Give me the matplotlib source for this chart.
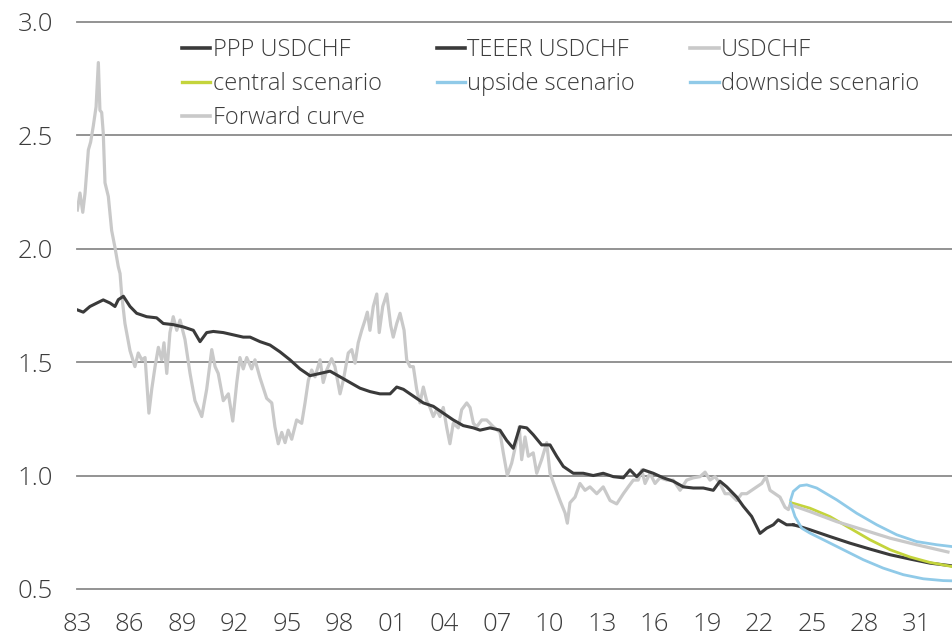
import matplotlib
matplotlib.use('Agg')
import matplotlib.pyplot as plt
from matplotlib.lines import Line2D

plt.rcParams['font.family'] = ['Open Sans', 'DejaVu Sans']
plt.rcParams['font.weight'] = 'light'

# ---------------- data ----------------
usd_years = [1983.02, 1983.17, 1983.33, 1983.46, 1983.65, 1983.78, 1983.93,
             1984.09, 1984.22, 1984.31, 1984.41, 1984.50, 1984.60, 1984.79, 1984.98,
             1985.17, 1985.36, 1985.46, 1985.55, 1985.74,
             1986.03, 1986.31, 1986.50, 1986.70, 1986.89,
             1987.11, 1987.27, 1987.46, 1987.65, 1987.84, 1987.97,
             1988.13, 1988.31, 1988.50, 1988.70, 1988.89,
             1989.17, 1989.46, 1989.74,
             1990.13, 1990.41, 1990.70, 1990.89,
             1991.07, 1991.36, 1991.65, 1991.90,
             1992.13, 1992.31, 1992.50, 1992.70, 1992.98,
             1993.17, 1993.46, 1993.84,
             1994.13, 1994.31, 1994.50, 1994.70, 1994.89,
             1995.07, 1995.27, 1995.55, 1995.84,
             1996.03, 1996.22, 1996.41, 1996.60, 1996.89,
             1997.07, 1997.27, 1997.55, 1997.74,
             1998.03, 1998.22, 1998.50, 1998.70, 1998.89,
             1999.07, 1999.27, 1999.46, 1999.59, 1999.74, 1999.93,
             2000.13, 2000.27, 2000.47, 2000.70, 2000.93,
             2001.07, 2001.27, 2001.46, 2001.69, 2001.84,
             2002.03, 2002.22, 2002.41, 2002.60, 2002.79, 2002.98,
             2003.17, 2003.36, 2003.55, 2003.74, 2003.93,
             2004.13, 2004.31, 2004.50, 2004.79, 2004.98,
             2005.27, 2005.46, 2005.65, 2005.84,
             2006.13, 2006.41, 2006.79,
             2007.17, 2007.36, 2007.59, 2007.84,
             2008.13, 2008.27, 2008.41, 2008.60, 2008.79,
             2009.07, 2009.27, 2009.55, 2009.84,
             2010.03, 2010.31, 2010.60, 2010.89,
             2011.02, 2011.17, 2011.46, 2011.74,
             2012.03, 2012.31, 2012.70,
             2013.07, 2013.46, 2013.84,
             2014.22, 2014.50, 2014.79,
             2015.07, 2015.27, 2015.46, 2015.74,
             2016.03, 2016.31, 2016.70,
             2017.07, 2017.46, 2017.84,
             2018.22, 2018.60, 2018.89,
             2019.17, 2019.46, 2019.74,
             2020.03, 2020.31, 2020.70, 2020.98,
             2021.27, 2021.55, 2021.84,
             2022.13, 2022.37, 2022.60, 2022.89,
             2023.17, 2023.46, 2023.65, 2023.78]
usd_vals = [2.17, 2.245, 2.16, 2.245, 2.435, 2.47, 2.54,
            2.625, 2.82, 2.61, 2.60, 2.51, 2.29, 2.23, 2.08,
            2.005, 1.92, 1.89, 1.80, 1.67,
            1.55, 1.48, 1.54, 1.51, 1.52,
            1.275, 1.38, 1.48, 1.565, 1.51, 1.585,
            1.45, 1.63, 1.70, 1.64, 1.685,
            1.60, 1.45, 1.33,
            1.26, 1.38, 1.555, 1.48,
            1.45, 1.33, 1.36, 1.24,
            1.41, 1.52, 1.47, 1.52, 1.47,
            1.51, 1.43, 1.34,
            1.32, 1.215, 1.14, 1.19, 1.145,
            1.20, 1.16, 1.245, 1.23,
            1.32, 1.42, 1.465, 1.435, 1.51,
            1.41, 1.465, 1.515, 1.48,
            1.36, 1.42, 1.54, 1.555, 1.495,
            1.585, 1.64, 1.685, 1.72, 1.64, 1.745,
            1.80, 1.63, 1.745, 1.80, 1.66,
            1.61, 1.67, 1.715, 1.64, 1.51,
            1.48, 1.48, 1.38, 1.32, 1.39, 1.33,
            1.30, 1.26, 1.29, 1.26, 1.30,
            1.21, 1.14, 1.23, 1.21, 1.29,
            1.32, 1.30, 1.23, 1.215,
            1.245, 1.245, 1.215,
            1.19, 1.10, 1.00, 1.055,
            1.155, 1.215, 1.07, 1.17, 1.085,
            1.10, 1.01, 1.07, 1.145,
            1.01, 0.95, 0.89, 0.835,
            0.79, 0.88, 0.905, 0.965,
            0.935, 0.95, 0.92,
            0.95, 0.89, 0.875,
            0.92, 0.95, 0.98,
            0.98, 1.025, 0.965, 1.01,
            0.965, 0.99, 0.98,
            0.98, 0.935, 0.98,
            0.99, 0.995, 1.015,
            0.98, 0.995, 0.965,
            0.92, 0.92, 0.89, 0.92,
            0.92, 0.935, 0.95,
            0.965, 0.995, 0.935, 0.92,
            0.905, 0.86, 0.85, 0.878]

teeer_years = [1983.02, 1983.36, 1983.74, 1984.13, 1984.50, 1984.89, 1985.17, 1985.36,
               1985.65, 1986.03, 1986.41, 1986.98, 1987.55, 1987.93, 1988.50, 1989.07,
               1989.65, 1990.03, 1990.41, 1990.79, 1991.36, 1991.93, 1992.50, 1992.89,
               1993.46, 1994.03, 1994.60, 1995.17, 1995.74, 1996.31, 1996.89, 1997.46,
               1998.03, 1998.60, 1999.17, 1999.74, 2000.31, 2000.89, 2001.27, 2001.65,
               2002.22, 2002.79, 2003.36, 2003.93, 2004.50, 2005.07, 2005.65, 2006.03,
               2006.60, 2007.17, 2007.55, 2007.93, 2008.31, 2008.70, 2009.07, 2009.55,
               2010.03, 2010.41, 2010.79, 2011.36, 2011.93, 2012.50, 2013.07, 2013.65,
               2014.22, 2014.60, 2014.98, 2015.36, 2015.93, 2016.50, 2017.07, 2017.65,
               2018.22, 2018.79, 2019.36, 2019.74, 2020.13, 2020.70, 2021.07, 2021.55,
               2022.03, 2022.41, 2022.79, 2023.07, 2023.55, 2023.93]
teeer_vals = [1.73, 1.72, 1.745, 1.76, 1.774, 1.76, 1.745, 1.775,
              1.79, 1.745, 1.715, 1.70, 1.695, 1.67, 1.665, 1.655,
              1.64, 1.59, 1.63, 1.635, 1.63, 1.62, 1.61, 1.61,
              1.59, 1.575, 1.545, 1.51, 1.47, 1.44, 1.45, 1.46,
              1.435, 1.41, 1.385, 1.37, 1.36, 1.36, 1.39, 1.38,
              1.35, 1.32, 1.305, 1.275, 1.245, 1.22, 1.21, 1.20,
              1.21, 1.20, 1.155, 1.12, 1.215, 1.21, 1.18, 1.135,
              1.135, 1.085, 1.04, 1.01, 1.01, 1.00, 1.01, 0.995,
              0.99, 1.025, 0.995, 1.025, 1.01, 0.99, 0.975, 0.95,
              0.945, 0.945, 0.935, 0.975, 0.95, 0.905, 0.865, 0.82,
              0.745, 0.768, 0.783, 0.805, 0.783, 0.783]

ppp_years = [2023.93, 2024.31, 2024.89, 2026.03, 2027.17, 2028.31, 2029.46, 2030.60, 2031.74, 2033.0]
ppp_vals = [0.783, 0.775, 0.761, 0.731, 0.702, 0.676, 0.651, 0.632, 0.614, 0.602]

central_years = [2023.78, 2024.89, 2026.03, 2027.17, 2028.31, 2029.46, 2030.60, 2031.74, 2033.0]
central_vals = [0.881, 0.856, 0.819, 0.768, 0.717, 0.673, 0.641, 0.617, 0.599]

upside_years = [2023.78, 2023.93, 2024.31, 2024.70, 2025.27, 2026.41, 2027.55, 2028.70,
                2029.84, 2030.98, 2032.13, 2033.0]
upside_vals = [0.893, 0.93, 0.955, 0.959, 0.945, 0.893, 0.834, 0.783, 0.739, 0.709, 0.695, 0.687]

downside_years = [2023.78, 2024.03, 2024.41, 2024.89, 2025.65, 2026.79, 2027.93, 2029.07,
                  2030.22, 2031.36, 2032.50, 2033.0]
downside_vals = [0.878, 0.819, 0.768, 0.746, 0.717, 0.673, 0.629, 0.592, 0.563, 0.545, 0.537, 0.536]

forward_years = [2023.78, 2024.89, 2026.41, 2027.93, 2029.46, 2030.98, 2032.77]
forward_vals = [0.871, 0.841, 0.797, 0.761, 0.724, 0.695, 0.663]

xtick_years = list(range(1983, 2032, 3))
xtick_labels = ['83', '86', '89', '92', '95', '98', '01', '04', '07', '10',
                '13', '16', '19', '22', '25', '28', '31']
ytick_vals = [0.5, 1.0, 1.5, 2.0, 2.5, 3.0]
ytick_labels = ['0.5', '1.0', '1.5', '2.0', '2.5', '3.0']

# ---------------- styling ----------------
DARK = '#3a3a3a'
GREY = '#c9c9c9'
GREEN = '#c4d43c'
BLUE = '#90cae8'
GRID = '#8a8a8a'
TXT = '#3c3c3c'

fig = plt.figure(figsize=(9.52, 6.38), dpi=100)
ax = fig.add_axes([77 / 952, 49 / 638, 875 / 952, 567.3 / 638])

ax.plot(usd_years, usd_vals, color=GREY, lw=2.3, zorder=2, solid_joinstyle='round')
ax.plot(teeer_years, teeer_vals, color=DARK, lw=2.2, zorder=3, solid_joinstyle='round')
ax.plot(ppp_years, ppp_vals, color=DARK, lw=2.2, zorder=3, solid_joinstyle='round')
ax.plot(central_years, central_vals, color=GREEN, lw=2.0, zorder=4)
ax.plot(forward_years, forward_vals, color=GREY, lw=2.3, zorder=4.5)
ax.plot(upside_years, upside_vals, color=BLUE, lw=2.0, zorder=5, solid_joinstyle='round')
ax.plot(downside_years, downside_vals, color=BLUE, lw=2.0, zorder=5, solid_joinstyle='round')

ax.set_xlim(1983, 2033)
ax.set_ylim(0.5, 3.0)
ax.set_xticks(xtick_years)
ax.set_xticklabels(xtick_labels)
ax.set_yticks(ytick_vals)
ax.set_yticklabels(ytick_labels)
ax.tick_params(axis='both', length=0, labelsize=18.5, labelcolor=TXT)
ax.tick_params(axis='y', pad=17.5)
ax.tick_params(axis='x', pad=16.5)
for s in ax.spines.values():
    s.set_visible(False)
ax.yaxis.grid(True, color=GRID, lw=1.3)
ax.set_axisbelow(True)
for gl in ax.get_ygridlines():
    gl.set_clip_on(False)

# legend (row-wise order in the picture -> column-major for matplotlib)
h_ppp = Line2D([], [], color=DARK, lw=2.6)
h_teeer = Line2D([], [], color=DARK, lw=2.6)
h_usd = Line2D([], [], color=GREY, lw=2.6)
h_central = Line2D([], [], color=GREEN, lw=2.4)
h_up = Line2D([], [], color=BLUE, lw=2.4)
h_down = Line2D([], [], color=BLUE, lw=2.4)
h_fwd = Line2D([], [], color=GREY, lw=2.6)
handles = [h_ppp, h_central, h_fwd, h_teeer, h_up, h_usd, h_down]
labels = ['PPP USDCHF', 'central scenario', 'Forward curve', 'TEEER USDCHF',
          'upside scenario', 'USDCHF', 'downside scenario']
leg = fig.legend(handles, labels, ncol=3, loc='upper left',
                 bbox_to_anchor=(182 / 952, (638 - 38) / 638),
                 frameon=False, fontsize=17, handlelength=1.2, handletextpad=0.1,
                 columnspacing=2.33, labelspacing=0.42, borderpad=0, borderaxespad=0)
for t in leg.get_texts():
    t.set_color(TXT)

fig.savefig('out.png', dpi=100)
